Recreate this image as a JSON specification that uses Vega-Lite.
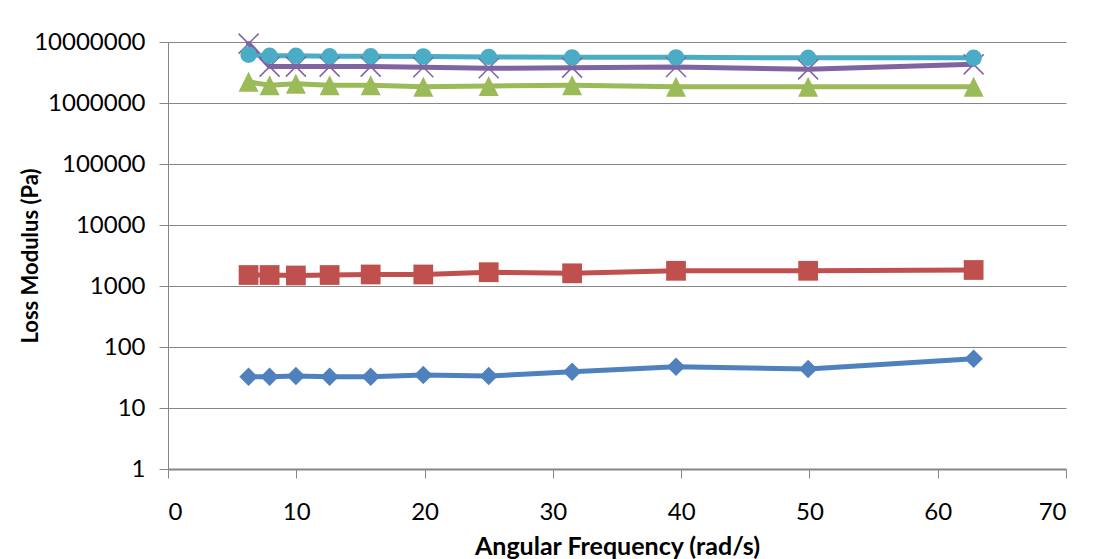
{
  "$schema": "https://vega.github.io/schema/vega-lite/v6.json",
  "autosize": {"type": "none"},
  "width": 898,
  "height": 427,
  "padding": {"left": 168, "top": 42, "right": 27, "bottom": 90},
  "background": "#ffffff",
  "config": {
    "view": {"stroke": null},
    "font": "Lato",
    "axis": {
      "labelFont": "Lato",
      "labelFontSize": 24,
      "labelColor": "#000000",
      "titleFont": "Lato",
      "titleFontWeight": "bold",
      "titleColor": "#000000",
      "domainColor": "#868686",
      "tickColor": "#868686",
      "gridColor": "#868686",
      "tickSize": 9
    }
  },
  "data": {
    "values": [
      {"series": "S1", "w": 6.28, "g": 32.6},
      {"series": "S1", "w": 7.92, "g": 32.6},
      {"series": "S1", "w": 9.97, "g": 33.4},
      {"series": "S1", "w": 12.6, "g": 32.6},
      {"series": "S1", "w": 15.8, "g": 32.6},
      {"series": "S1", "w": 19.9, "g": 34.7},
      {"series": "S1", "w": 25.0, "g": 33.4},
      {"series": "S1", "w": 31.5, "g": 39.4},
      {"series": "S1", "w": 39.6, "g": 47.5},
      {"series": "S1", "w": 49.9, "g": 43.6},
      {"series": "S1", "w": 62.8, "g": 64.3},
      {"series": "S2", "w": 6.28, "g": 1514},
      {"series": "S2", "w": 7.92, "g": 1514},
      {"series": "S2", "w": 9.97, "g": 1487},
      {"series": "S2", "w": 12.6, "g": 1514},
      {"series": "S2", "w": 15.8, "g": 1545},
      {"series": "S2", "w": 19.9, "g": 1545},
      {"series": "S2", "w": 25.0, "g": 1683},
      {"series": "S2", "w": 31.5, "g": 1615},
      {"series": "S2", "w": 39.6, "g": 1775},
      {"series": "S2", "w": 49.9, "g": 1775},
      {"series": "S2", "w": 62.8, "g": 1830},
      {"series": "S3", "w": 6.28, "g": 2230000},
      {"series": "S3", "w": 7.92, "g": 1950000},
      {"series": "S3", "w": 9.97, "g": 2070000},
      {"series": "S3", "w": 12.6, "g": 1950000},
      {"series": "S3", "w": 15.8, "g": 1950000},
      {"series": "S3", "w": 19.9, "g": 1850000},
      {"series": "S3", "w": 25.0, "g": 1900000},
      {"series": "S3", "w": 31.5, "g": 1950000},
      {"series": "S3", "w": 39.6, "g": 1850000},
      {"series": "S3", "w": 49.9, "g": 1850000},
      {"series": "S3", "w": 62.8, "g": 1850000},
      {"series": "S4", "w": 6.28, "g": 9400000},
      {"series": "S4", "w": 7.92, "g": 3950000},
      {"series": "S4", "w": 9.97, "g": 3950000},
      {"series": "S4", "w": 12.6, "g": 3950000},
      {"series": "S4", "w": 15.8, "g": 3950000},
      {"series": "S4", "w": 19.9, "g": 3850000},
      {"series": "S4", "w": 25.0, "g": 3700000},
      {"series": "S4", "w": 31.5, "g": 3800000},
      {"series": "S4", "w": 39.6, "g": 3900000},
      {"series": "S4", "w": 49.9, "g": 3560000},
      {"series": "S4", "w": 62.8, "g": 4300000},
      {"series": "S5", "w": 6.28, "g": 6200000},
      {"series": "S5", "w": 7.92, "g": 5950000},
      {"series": "S5", "w": 9.97, "g": 5950000},
      {"series": "S5", "w": 12.6, "g": 5850000},
      {"series": "S5", "w": 15.8, "g": 5850000},
      {"series": "S5", "w": 19.9, "g": 5800000},
      {"series": "S5", "w": 25.0, "g": 5700000},
      {"series": "S5", "w": 31.5, "g": 5600000},
      {"series": "S5", "w": 39.6, "g": 5600000},
      {"series": "S5", "w": 49.9, "g": 5500000},
      {"series": "S5", "w": 62.8, "g": 5500000}
    ]
  },
  "encoding": {
    "x": {
      "field": "w",
      "type": "quantitative",
      "scale": {"domain": [0, 70], "nice": false, "zero": false},
      "axis": {
        "title": "Angular Frequency (rad/s)",
        "titleFontSize": 25,
        "values": [0, 10, 20, 30, 40, 50, 60, 70],
        "grid": false,
        "domainWidth": 2,
        "labelPadding": 22,
        "titlePadding": 10
      }
    },
    "y": {
      "field": "g",
      "type": "quantitative",
      "scale": {"type": "log", "domain": [1, 10000000], "nice": false},
      "axis": {
        "title": "Loss Modulus (Pa)",
        "titleFontSize": 22,
        "values": [1, 10, 100, 1000, 10000, 100000, 1000000, 10000000],
        "format": "d",
        "grid": true,
        "labelPadding": 14,
        "titlePadding": -9
      }
    },
    "color": {
      "field": "series",
      "type": "nominal",
      "scale": {
        "domain": ["S1", "S2", "S3", "S4", "S5"],
        "range": ["#4F81BD", "#C0504D", "#9BBB59", "#8064A2", "#4BACC6"]
      },
      "legend": null
    }
  },
  "layer": [
    {
      "mark": {"type": "line", "strokeWidth": 5, "strokeCap": "round", "strokeJoin": "round"},
      "encoding": {"detail": {"field": "series"}}
    },
    {
      "transform": [{"filter": "datum.series === 'S1'"}],
      "mark": {"type": "point", "filled": true, "opacity": 1, "shape": "diamond", "size": 340}
    },
    {
      "transform": [{"filter": "datum.series === 'S2'"}],
      "mark": {"type": "point", "filled": true, "opacity": 1, "shape": "square", "size": 390}
    },
    {
      "transform": [{"filter": "datum.series === 'S3'"}],
      "mark": {"type": "point", "filled": true, "opacity": 1, "shape": "M0,-1L1,1L-1,1Z", "size": 400}
    },
    {
      "transform": [{"filter": "datum.series === 'S4'"}],
      "mark": {"type": "point", "filled": false, "opacity": 1, "strokeWidth": 1.5, "shape": "M-1,-1L1,1M-1,1L1,-1", "size": 400}
    },
    {
      "transform": [{"filter": "datum.series === 'S5'"}],
      "mark": {"type": "point", "filled": true, "opacity": 1, "shape": "circle", "size": 270}
    }
  ]
}
